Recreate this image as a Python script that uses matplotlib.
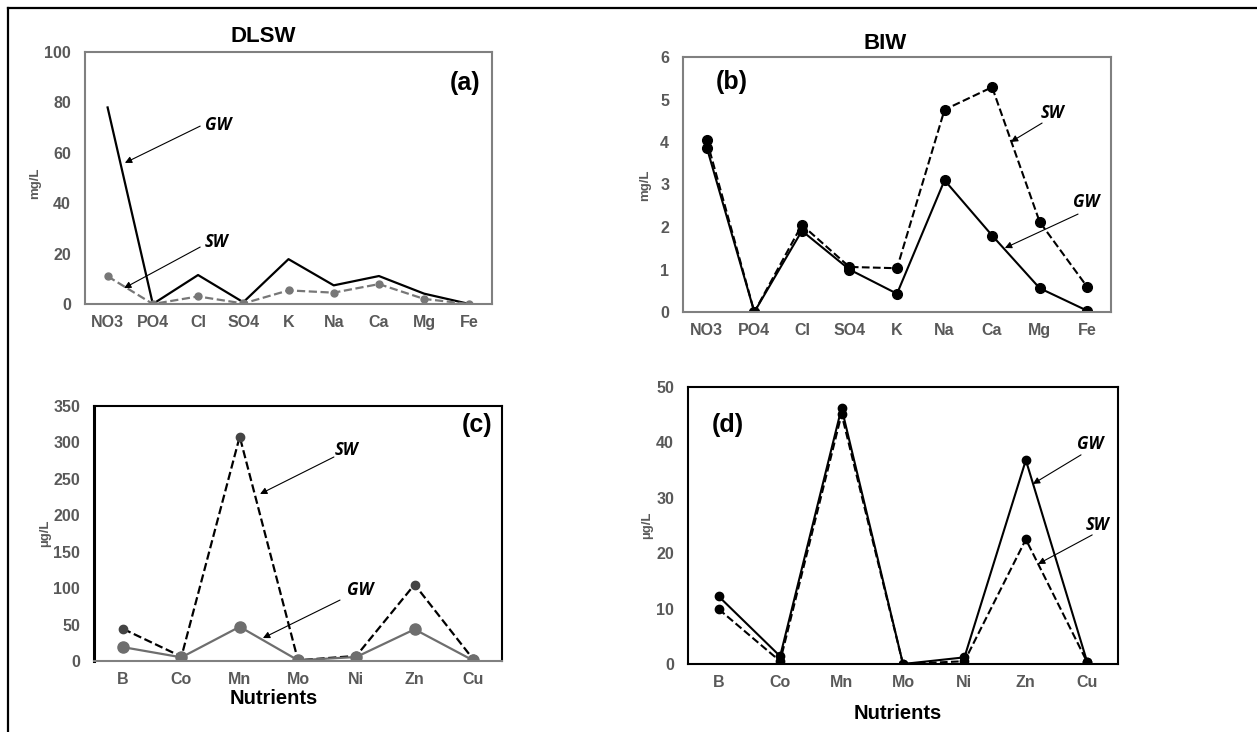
import matplotlib.pyplot as plt
from matplotlib.lines import Line2D

plt.rcParams['font.family'] = ['Liberation Sans', 'DejaVu Sans']

# data
macro = ["NO3", "PO4", "Cl", "SO4", "K", "Na", "Ca", "Mg", "Fe"]
dlsw_gw = [78, 0, 11.5, 0.7, 17.8, 7.4, 11.1, 4.1, 0]
dlsw_sw = [11, 0, 3, 0.2, 5.4, 4.5, 7.9, 2, 0]
biw_gw = [3.87, 0, 1.91, 1.0, 0.43, 3.1, 1.8, 0.56, 0.03]
biw_sw = [4.04, 0, 2.05, 1.06, 1.03, 4.76, 5.29, 2.12, 0.59]

micro = ["B", "Co", "Mn", "Mo", "Ni", "Zn", "Cu"]
dlsw_micro_sw = [44, 6, 308, 1, 7, 105, 3]
dlsw_micro_gw = [19, 5, 47, 1, 5.5, 43.5, 1]
biw_micro_gw = [12.2, 1.4, 46.2, 0, 1.2, 36.8, 0.3]
biw_micro_sw = [9.9, 0.5, 45.1, 0, 0.5, 22.5, 0.3]

tick_grey = "#595959"
W, H = 1257, 732
fig = plt.figure(figsize=(W / 100, H / 100), dpi=100)

# outer frame (left and top only)
fig.add_artist(Line2D([8 / W, 8 / W], [0, 1 - 8 / H], color="black", lw=1.6))
fig.add_artist(Line2D([8 / W, 1], [1 - 8 / H, 1 - 8 / H], color="black", lw=1.6))


def px_axes(l, t, r, b):
    return fig.add_axes([l / W, 1 - b / H, (r - l) / W, (b - t) / H])


def style(ax, cats, ymax, step, ylabel, frame):
    ax.set_xlim(-0.5, len(cats) - 0.5)
    ax.set_ylim(0, ymax)
    ax.set_xticks(range(len(cats)))
    ax.set_xticklabels(cats)
    ax.set_yticks(range(0, ymax + 1, step))
    ax.tick_params(axis="x", length=0, pad=8, labelsize=11.5, labelcolor=tick_grey)
    ax.tick_params(axis="y", length=0, pad=10, labelsize=11.5, labelcolor=tick_grey)
    for lab in ax.get_xticklabels() + ax.get_yticklabels():
        lab.set_fontweight("bold")
    for side, c in frame.items():
        ax.spines[side].set_color(c[0])
        ax.spines[side].set_linewidth(c[1])
    ax.set_ylabel(ylabel, fontsize=9.5, fontweight="bold", color=tick_grey)


def note(ax, label, txt, tail, head):
    ax.annotate("", xy=head, xytext=tail, xycoords="axes fraction",
                textcoords="axes fraction",
                arrowprops=dict(arrowstyle="-|>", lw=0.8, color="black",
                                mutation_scale=10, shrinkA=0, shrinkB=0))
    ax.text(txt[0], txt[1], label, transform=ax.transAxes, ha="center",
            va="center", fontsize=12, fontstyle="italic", fontweight="bold",
            family=["Open Sans", "DejaVu Sans"])


grey_frame = {s: ("#808080", 1.5) for s in ["left", "right", "top", "bottom"]}

# (a)
ax = px_axes(85, 52, 492, 304)
x = range(len(macro))
ax.plot(x, dlsw_gw, color="black", lw=1.6)
ax.plot(x, dlsw_sw, color="#777777", lw=1.6, ls="--", marker="o", ms=5)
style(ax, macro, 100, 20, "mg/L", grey_frame)
ax.yaxis.set_label_coords(-0.108, 0.48)
ax.text(0.437, 1.06, "DLSW", transform=ax.transAxes, ha="center", va="center",
        fontsize=16, fontweight="bold")
ax.text(0.934, 0.877, "(a)", transform=ax.transAxes, ha="center", va="center",
        fontsize=18, fontweight="bold")
note(ax, "GW", (0.327, 0.71), (0.283, 0.706), (0.098, 0.56))
note(ax, "SW", (0.324, 0.246), (0.283, 0.226), (0.096, 0.063))

# (b)
ax = px_axes(683, 57, 1111, 312)
ax.plot(x, biw_sw, color="black", lw=1.5, ls="--", marker="o", ms=7)
ax.plot(x, biw_gw, color="black", lw=1.5, marker="o", ms=7)
style(ax, macro, 6, 1, "mg/L", grey_frame)
ax.yaxis.set_label_coords(-0.075, 0.498)
ax.text(0.472, 1.051, "BIW", transform=ax.transAxes, ha="center", va="center",
        fontsize=16, fontweight="bold")
ax.text(0.114, 0.902, "(b)", transform=ax.transAxes, ha="center", va="center",
        fontsize=18, fontweight="bold")
note(ax, "SW", (0.864, 0.78), (0.839, 0.741), (0.766, 0.667))
note(ax, "GW", (0.942, 0.431), (0.923, 0.384), (0.752, 0.251))

# (c)
ax = px_axes(94, 406, 502, 661)
x = range(len(micro))
ax.plot(x, dlsw_micro_sw, color="black", lw=1.6, ls="--", marker="o", ms=6,
        mfc="#444444", mec="#444444")
ax.plot(x, dlsw_micro_gw, color="#6e6e6e", lw=1.6, marker="o", ms=8)
frame_c = {"left": ("black", 2.2), "top": ("black", 1.5),
           "right": ("black", 1.5), "bottom": ("#808080", 1.5)}
style(ax, micro, 350, 50, "µg/L", frame_c)
ax.yaxis.set_label_coords(-0.105, 0.502)
ax.text(0.441, -0.149, "Nutrients", transform=ax.transAxes, ha="center",
        va="center", fontsize=14.5, fontweight="bold")
ax.text(0.939, 0.925, "(c)", transform=ax.transAxes, ha="center", va="center",
        fontsize=18, fontweight="bold")
note(ax, "SW", (0.62, 0.827), (0.588, 0.8), (0.407, 0.655))
note(ax, "GW", (0.652, 0.278), (0.603, 0.239), (0.414, 0.09))

# (d)
ax = px_axes(688, 387, 1118, 664)
ax.plot(x, biw_micro_sw, color="black", lw=1.5, ls="--", marker="o", ms=6)
ax.plot(x, biw_micro_gw, color="black", lw=1.5, marker="o", ms=6)
black_frame = {s: ("black", 1.5) for s in ["left", "right", "top", "bottom"]}
style(ax, micro, 50, 10, "µg/L", black_frame)
ax.yaxis.set_label_coords(-0.081, 0.502)
ax.text(0.488, -0.177, "Nutrients", transform=ax.transAxes, ha="center",
        va="center", fontsize=14.5, fontweight="bold")
ax.text(0.093, 0.863, "(d)", transform=ax.transAxes, ha="center", va="center",
        fontsize=18, fontweight="bold")
note(ax, "GW", (0.935, 0.794), (0.914, 0.755), (0.802, 0.65))
note(ax, "SW", (0.953, 0.502), (0.94, 0.466), (0.814, 0.361))

fig.savefig("out.png", dpi=100)
